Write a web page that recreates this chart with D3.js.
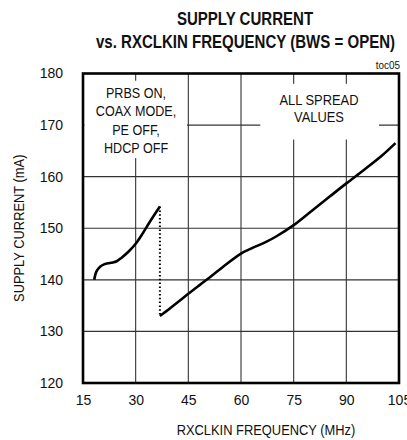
<!DOCTYPE html>
<html>
<head>
<meta charset="utf-8">
<script src="https://cdn.jsdelivr.net/npm/d3@7"></script>
<style>
  body { margin: 0; background: #fff; }
  text { font-family: "Liberation Sans", Arial, sans-serif; fill: #111; }
</style>
</head>
<body>
<div id="plot"></div>
<script>
// data
const xTicks = [15, 30, 45, 60, 75, 90, 105];
const yTicks = [120, 130, 140, 150, 160, 170, 180];

// PRBS on, low-frequency segment (MHz, mA)
const lowFreq = [18.2, 18.8, 19.8, 21, 23, 24.6, 26, 28, 30, 32, 34, 36.9];
const lowCurrent = [140, 141.6, 142.5, 143, 143.3, 143.6, 144.3, 145.5, 147, 149, 151.2, 154.2];

// all spread values segment
const highFreq = [36.9, 40, 45, 50, 55, 60, 63, 67, 70, 75, 80, 85, 90, 95, 100, 104];
const highCurrent = [133, 134.6, 137.3, 139.9, 142.6, 145.1, 146.1, 147.3, 148.4, 150.6, 153.3, 156, 158.7, 161.3, 164, 166.5];

// dotted jump between the two segments
const jumpFreq = [36.9, 36.9];
const jumpCurrent = [154.2, 133];

const box1 = ["PRBS ON,", "COAX MODE,", "PE OFF,", "HDCP OFF"];
const box2 = ["ALL SPREAD", "VALUES"];

const w = 407, h = 440;
const margin = {top: 73.5, right: 8, bottom: 57, left: 83};
const innerWidth = w - margin.left - margin.right;
const innerHeight = h - margin.top - margin.bottom;

const xScale = d3.scaleLinear().domain([15, 105]).range([0, innerWidth]);
const yScale = d3.scaleLinear().domain([120, 180]).range([innerHeight, 0]);

const xAxis = d3.axisBottom(xScale).tickValues(xTicks).tickSize(0).tickPadding(12);
const yAxis = d3.axisLeft(yScale).tickValues(yTicks).tickSize(0).tickPadding(20);

const svg = d3.select("div#plot")
  .append("svg")
  .attr("width", w)
  .attr("height", h);

// the original uses a condensed face; squeeze the glyphs horizontally
function ntext(parent, x, y, str, size, sx, anchor, opts = {}) {
  const g = parent.append("g")
    .attr("transform", `translate(${x}, ${y}) ${opts.rotate ? "rotate(-90)" : ""} scale(${sx}, 1)`);
  g.append("text")
    .attr("text-anchor", anchor)
    .style("font-size", size + "px")
    .style("font-weight", opts.bold ? "bold" : "normal")
    .text(str);
  return g;
}

// title
ntext(svg, 245, 25, "SUPPLY CURRENT", 18, 0.835, "middle", {bold: true});
ntext(svg, 245.5, 48, "vs. RXCLKIN FREQUENCY (BWS = OPEN)", 18, 0.835, "middle", {bold: true});
ntext(svg, 400, 69, "toc05", 11, 0.9, "end");

const plot = svg.append("g")
  .attr("id", "plotarea")
  .attr("transform", `translate(${margin.left}, ${margin.top})`);

// grid
plot.append("g")
  .selectAll("line")
  .data(xTicks)
  .enter()
  .append("line")
  .attr("x1", d => xScale(d)).attr("x2", d => xScale(d))
  .attr("y1", 0).attr("y2", innerHeight)
  .attr("stroke", "#333").attr("stroke-width", 1.1);

plot.append("g")
  .selectAll("line")
  .data(yTicks)
  .enter()
  .append("line")
  .attr("x1", 0).attr("x2", innerWidth)
  .attr("y1", d => yScale(d)).attr("y2", d => yScale(d))
  .attr("stroke", "#333").attr("stroke-width", 1.1);

// text boxes knock out the grid
plot.append("rect")
  .attr("x", xScale(15.4)).attr("y", yScale(178.6))
  .attr("width", xScale(44.6) - xScale(15.4))
  .attr("height", yScale(163.6) - yScale(178.6))
  .attr("fill", "#fff");
plot.append("rect")
  .attr("x", xScale(65.5)).attr("y", yScale(178))
  .attr("width", xScale(99.3) - xScale(65.5))
  .attr("height", yScale(167.2) - yScale(178))
  .attr("fill", "#fff");

box1.forEach((d, i) => ntext(plot, xScale(30.1), 24 + i * 18.5, d, 15, 0.84, "middle"));
box2.forEach((d, i) => ntext(plot, xScale(82.2), 31.5 + i * 17, d, 15, 0.86, "middle"));

// curves
const line = d3.line()
  .x(d => xScale(d[0]))
  .y(d => yScale(d[1]))
  .curve(d3.curveCatmullRom);

plot.append("path")
  .datum(d3.zip(lowFreq, lowCurrent))
  .attr("d", line)
  .attr("fill", "none").attr("stroke", "#000").attr("stroke-width", 2.6);

plot.append("path")
  .datum(d3.zip(highFreq, highCurrent))
  .attr("d", line)
  .attr("fill", "none").attr("stroke", "#000").attr("stroke-width", 2.6);

plot.append("path")
  .datum(d3.zip(jumpFreq, jumpCurrent))
  .attr("d", d3.line().x(d => xScale(d[0])).y(d => yScale(d[1])))
  .attr("fill", "none").attr("stroke", "#000").attr("stroke-width", 2)
  .attr("stroke-dasharray", "1.5,2.3");

// frame
plot.append("rect")
  .attr("width", innerWidth).attr("height", innerHeight)
  .attr("fill", "none").attr("stroke", "#000").attr("stroke-width", 2.6);

// axes (labels only, grid + frame drawn above)
plot.append("g")
  .attr("id", "xaxis")
  .attr("transform", `translate(0, ${innerHeight})`)
  .call(xAxis)
  .call(g => g.select(".domain").remove())
  .selectAll("text")
  .attr("font-family", null)
  .style("font-size", "14px")
  .style("fill", "#111");

plot.append("g")
  .attr("id", "yaxis")
  .call(yAxis)
  .call(g => g.select(".domain").remove())
  .selectAll("text")
  .style("font-size", "14px")
  .style("fill", "#111");

// axis titles
ntext(plot, innerWidth / 2 + 25, innerHeight + 52, "RXCLKIN FREQUENCY (MHz)", 15, 0.86, "middle");
ntext(plot, 24 - margin.left, innerHeight / 2, "SUPPLY CURRENT (mA)", 15, 0.86, "middle", {rotate: true});
</script>
</body>
</html>
